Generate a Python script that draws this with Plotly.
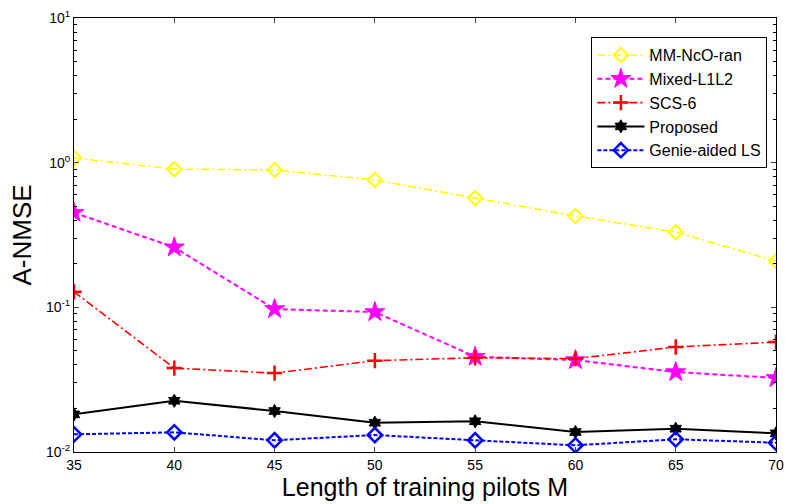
import plotly.graph_objects as go

M = [35, 40, 45, 50, 55, 60, 65, 70]
mm_ncoran = [1.076, 0.903, 0.89, 0.759, 0.569, 0.428, 0.331, 0.209]
mixed_l1l2 = [0.451, 0.26, 0.0973, 0.0928, 0.0456, 0.0432, 0.0357, 0.0325]
scs6 = [0.128, 0.038, 0.0351, 0.0428, 0.0448, 0.0442, 0.0532, 0.0575]
proposed = [0.0182, 0.0226, 0.0192, 0.01594, 0.0163, 0.01375, 0.01449, 0.01346]
genie_ls = [0.01325, 0.01368, 0.01205, 0.0131, 0.01205, 0.01112, 0.01224, 0.0116]

y_tickvals = [0.01, 0.1, 1, 10]
y_ticktext = ["10<sup>-2</sup>", "10<sup>-1</sup>", "10<sup>0</sup>", "10<sup>1</sup>"]

FONT = "Liberation Sans, Arial, sans-serif"

fig = go.Figure()
fig.add_trace(go.Scatter(x=M, y=mm_ncoran, name="MM-NcO-ran", mode="lines+markers",
    line=dict(color="#ffff00", width=1.6, dash="8px,3px,2px,3px"),
    marker=dict(symbol="diamond-open", size=11, color="#ffff00", line=dict(width=2, color="#ffff00"))))
fig.add_trace(go.Scatter(x=M, y=mixed_l1l2, name="Mixed-L1L2", mode="lines+markers",
    line=dict(color="#ff00ff", width=2, dash="5px,3px"),
    marker=dict(symbol="star", size=15, color="#ff00ff", line=dict(width=1, color="#ff00ff"))))
fig.add_trace(go.Scatter(x=M, y=scs6, name="SCS-6", mode="lines+markers",
    line=dict(color="#ff0000", width=1.6, dash="8px,3px,2px,3px"),
    marker=dict(symbol="cross-thin-open", size=11, color="#ff0000", line=dict(width=2.5, color="#ff0000"))))
fig.add_trace(go.Scatter(x=M, y=proposed, name="Proposed", mode="lines+markers",
    line=dict(color="#000000", width=2),
    marker=dict(symbol="hexagram", size=10, color="#000000", line=dict(width=1, color="#000000"))))
fig.add_trace(go.Scatter(x=M, y=genie_ls, name="Genie-aided LS", mode="lines+markers",
    line=dict(color="#0000ff", width=2, dash="4px,2px"),
    marker=dict(symbol="diamond-open", size=11, color="#0000ff", line=dict(width=2.5, color="#0000ff"))))

fig.update_layout(
    width=792, height=504,
    margin=dict(l=74, r=8, t=18, b=52),
    paper_bgcolor="white", plot_bgcolor="white",
    font=dict(family=FONT, size=14, color="#000000"),
    showlegend=True,
    legend=dict(x=0.737, y=0.956, xanchor="left", yanchor="top",
                bordercolor="#000000", borderwidth=1, bgcolor="white",
                font=dict(family=FONT, size=16), itemwidth=47,
                tracegroupgap=0, traceorder="normal"),
    xaxis=dict(range=[35, 70], tickvals=M, ticks="inside", ticklen=5,
               showline=True, linecolor="#000000", linewidth=1, mirror="ticks",
               showgrid=False, zeroline=False,
               tickfont=dict(family=FONT, size=14, color="#000000"),
               title=dict(text="Length of training pilots M", font=dict(family=FONT, size=25),
                          standoff=2)),
    yaxis=dict(type="log", range=[-2, 1], tickvals=y_tickvals, ticktext=y_ticktext,
               ticks="inside", ticklen=5,
               showline=True, linecolor="#000000", linewidth=1, mirror="ticks",
               showgrid=False, zeroline=False,
               minor=dict(ticks="inside", ticklen=3, tickcolor="#000000", showgrid=False,
                          tickvals=[k * 10 ** e for e in (-2, -1, 0) for k in range(2, 10)]),
               tickfont=dict(family=FONT, size=14, color="#000000"),
               title=dict(text="A-NMSE", font=dict(family=FONT, size=26), standoff=6)),
)

fig.write_html("out.html")
